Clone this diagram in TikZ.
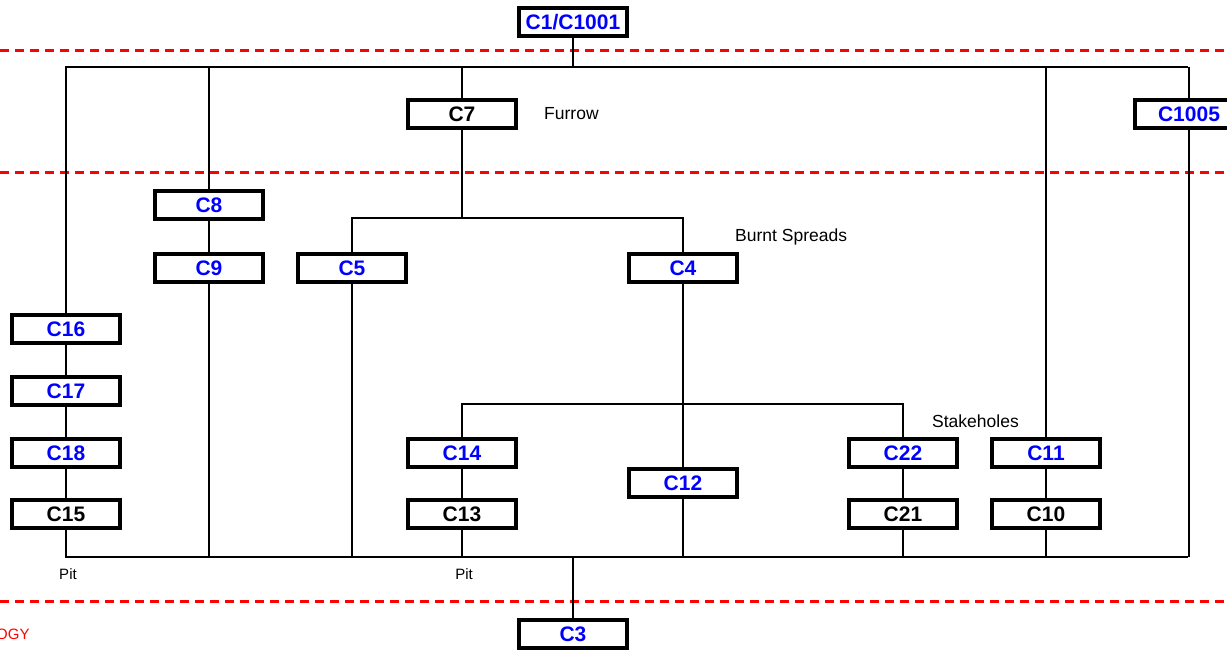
\documentclass[tikz,border=0pt]{standalone}
\usepackage{fontspec}
\setmainfont{Liberation Sans}
\usepackage{xcolor}
\usepackage{tikz}
\usetikzlibrary{positioning, calc}
\definecolor{ctxblue}{RGB}{0,0,255}
\definecolor{phasered}{RGB}{255,0,0}

\begin{document}
\begin{tikzpicture}[
        x=1pt, y=-1pt,
        ctx/.style={rectangle, draw, line width=4pt, fill=white, minimum width=108pt, minimum height=28pt, inner sep=0pt, font=\fontsize{21}{24}\selectfont\bfseries},
        bluectx/.style={ctx, text=ctxblue},
        note/.style={inner sep=0pt, font=\fontsize{17.5}{20}\selectfont},
        small/.style={inner sep=0pt, font=\fontsize{15}{18}\selectfont},
        link/.style={line width=1.2pt},
        phase/.style={phasered, line width=3pt, dash pattern=on 9pt off 6pt}
    ]
        \useasboundingbox (0,0) rectangle (1227,651);

        % phase boundaries
        \draw[phase] (0,50)  -- (1227,50);
        \draw[phase] (0,172) -- (1227,172);
        \draw[phase] (0,601) -- (1227,601);

        \node[bluectx] (c1)    at (573,22)  {C1/C1001};
        \node[ctx]     (c7)    at (462,114) {C7};
        \node[bluectx] (c1005) at (1189,114) {C1005};
        \node[bluectx] (c8)    at (209,205) {C8};
        \node[bluectx] (c9)    at (209,268) {C9};
        \node[bluectx] (c5)    at (352,268) {C5};
        \node[bluectx] (c4)    at (683,268) {C4};
        \node[bluectx] (c16)   at (66,329)  {C16};
        \node[bluectx] (c17)   at (66,391)  {C17};
        \node[bluectx] (c18)   at (66,453)  {C18};
        \node[ctx]     (c15)   at (66,514)  {C15};
        \node[bluectx] (c14)   at (462,453) {C14};
        \node[ctx]     (c13)   at (462,514) {C13};
        \node[bluectx] (c12)   at (683,483) {C12};
        \node[bluectx] (c22)   at (903,453) {C22};
        \node[ctx]     (c21)   at (903,514) {C21};
        \node[bluectx] (c11)   at (1046,453) {C11};
        \node[ctx]     (c10)   at (1046,514) {C10};
        \node[bluectx] (c3)    at (573,634) {C3};

        \node[note, anchor=west]  (furrow) at (544,114) {Furrow};
        \node[note, anchor=west]  (burnt)  at (735,237) {Burnt Spreads};
        \node[note, anchor=west]  (stake)  at (932,421) {Stakeholes};
        \node[small] (pit1) at (68,574)  {Pit};
        \node[small] (pit2) at (464,574) {Pit};
        \node[small, anchor=west, text=phasered] (phlabel) at (-4,634) {OGY};

        \coordinate (tl) at (65,67);
        \coordinate (tr) at (1188,67);
        \coordinate (bl) at (65,557);
        \coordinate (br) at (1188,557);
        \coordinate (fork7) at (462,218);
        \coordinate (fork4) at (683,404);

        % top and bottom bars
        \draw[link] (tl) -- (tr);
        \draw[link] (bl) -- (br);
        \draw[link] (c1) -- (c1 |- tl);
        \draw[link] (c3) -- (c3 |- bl);

        \draw[link] (c16) -- (c16 |- tl);
        \draw[link] (c16) -- (c17);
        \draw[link] (c17) -- (c18);
        \draw[link] (c18) -- (c15);
        \draw[link] (c15) -- (c15 |- bl);

        \draw[link] (c8) -- (c8 |- tl);
        \draw[link] (c8) -- (c9);
        \draw[link] (c9) -- (c9 |- bl);

        \draw[link] (c7) -- (c7 |- tl);
        \draw[link] (c7) -- (fork7);
        \draw[link] (c5) |- (fork7) -| (c4);
        \draw[link] (c5) -- (c5 |- bl);
        \draw[link] (c4) -- (c12);
        \draw[link] (c12) -- (c12 |- bl);

        \draw[link] (c14) |- (fork4) -| (c22);
        \draw[link] (c14) -- (c13);
        \draw[link] (c13) -- (c13 |- bl);
        \draw[link] (c22) -- (c21);
        \draw[link] (c21) -- (c21 |- bl);

        \draw[link] (c11) -- (c11 |- tl);
        \draw[link] (c11) -- (c10);
        \draw[link] (c10) -- (c10 |- bl);

        \draw[link] (c1005) -- (c1005 |- tl);
        \draw[link] (c1005) -- (c1005 |- bl);
\end{tikzpicture}
\end{document}
